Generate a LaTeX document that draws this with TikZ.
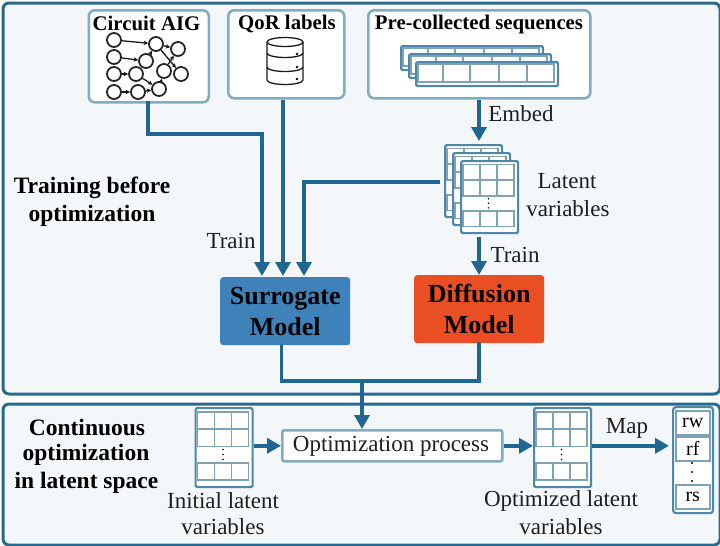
\documentclass[tikz,border=0pt]{standalone}
\usepackage{fontspec}
\setmainfont{Liberation Serif}
\usetikzlibrary{arrows.meta}
\definecolor{panelblue}{HTML}{286A8E}
\definecolor{arrowblue}{HTML}{1F6690}
\definecolor{boxedge}{HTML}{86ABBF}
\definecolor{frameblue}{HTML}{4E88A8}
\definecolor{cellgrey}{HTML}{7FA3B5}
\definecolor{panelfill}{HTML}{F3F7FA}
\definecolor{surro}{HTML}{3F82BA}
\definecolor{diffu}{HTML}{E94F22}
\tikzset{
  panel/.style={draw=panelblue,line width=3pt,fill=panelfill,rounded corners=6pt,inner sep=0pt,anchor=north west},
  srcbox/.style={draw=boxedge,line width=2.6pt,fill=white,rounded corners=6pt,inner sep=0pt,anchor=north west},
  frame/.style={draw=frameblue,line width=2.2pt,fill=white,rounded corners=1.5pt,inner sep=0pt,anchor=north west},
  cell/.style={draw=cellgrey,line width=1.5pt},
  conn/.style={draw=arrowblue,line width=3.6pt},
  arr/.style={conn,-{Triangle[length=14pt,width=15pt]}},
  lbl/.style={inner sep=0pt,text=black!88,font=\fontsize{23}{26}\selectfont},
  blbl/.style={inner sep=0pt,text=black,font=\fontsize{20.8}{24}\selectfont\bfseries},
  sidelbl/.style={inner sep=0pt,text=black,font=\fontsize{23.5}{27}\selectfont\bfseries},
  gate/.style={circle,draw=black!85,line width=1.8pt,fill=white,minimum size=14pt,inner sep=0pt},
  wire/.style={draw=black!90,line width=1.3pt,-{Stealth[length=4.5pt,width=4.5pt]}},
  ghost/.style={inner sep=0pt,anchor=north west},
  modelbox/.style={rounded corners=3pt,inner sep=0pt,anchor=north west,minimum width=130pt,minimum height=68pt,align=center,text=black,font=\fontsize{26}{31}\selectfont\bfseries},
  seqcell/.style={draw=cellgrey,line width=1.5pt,minimum width=34pt,minimum height=24pt,inner sep=0pt,anchor=north west,font=\fontsize{20}{22}\selectfont},
  dbline/.style={draw=black!90,line width=1.3pt},
}
% grid of latent cells: name, x, y, height
\newcommand{\latgrid}[4]{%
  \node[frame,minimum width=57pt,minimum height=#4pt] (#1) at (#2,#3) {};
  \begin{scope}[shift={(#2,#3)},yscale=#4/79]
    \draw[cell] (3,5) rectangle (54,39.5);
    \draw[cell] (3,22) -- (54,22);
    \draw[cell] (3,56) rectangle (54,73);
    \foreach \vx in {20,37}{\draw[cell] (\vx,5) -- (\vx,39.5); \draw[cell] (\vx,56) -- (\vx,73);}
    \foreach \vy in {42.5,47.5,52.5}{\fill[black] (28.5,\vy) circle (0.9pt);}
  \end{scope}}
% one sequence strip: name, x, y
\newcommand{\seqstrip}[3]{%
  \node[frame,minimum width=142pt,minimum height=24pt] (#1) at (#2,#3) {};
  \begin{scope}[shift={(#2,#3)}]
    \draw[cell] (3,3) rectangle (139,21);
    \foreach \vx in {28,55,84,112}{\draw[cell] (\vx,3) -- (\vx,21);}
  \end{scope}}
\begin{document}
\begin{tikzpicture}[x=1pt,y=-1pt]
\useasboundingbox (0,0) rectangle (720,546);
\fill[white] (0,0) rectangle (720,546);
% panels
\node[panel,minimum width=717pt,minimum height=391pt] (trainpanel) at (1.5,1.5) {};
\node[panel,minimum width=717pt,minimum height=141pt] (optpanel) at (1.5,402.5) {};
% source boxes
\node[srcbox,minimum width=120pt,minimum height=92pt] (aigbox) at (87.5,9) {};
\node[srcbox,minimum width=116pt,minimum height=88pt] (qorbox) at (227,9) {};
\node[srcbox,minimum width=222pt,minimum height=88pt] (seqbox) at (367,9) {};
\node[blbl] (aigtitle) at (146.5,23) {Circuit AIG};
\node[blbl] (qortitle) at (287,24) {QoR labels};
\node[blbl] (seqtitle) at (479,24) {Pre-collected sequences};
% AIG graph
\node[gate] (g1) at (114,40) {};
\node[gate] (g2) at (156,44) {};
\node[gate] (g3) at (178,49) {};
\node[gate] (g4) at (114,57) {};
\node[gate] (g5) at (146,61) {};
\node[gate] (g6) at (114,74) {};
\node[gate] (g7) at (136,74) {};
\node[gate] (g8) at (164,71) {};
\node[gate] (g9) at (181,74) {};
\node[gate] (g10) at (114,92) {};
\node[gate] (g11) at (138,92) {};
\node[gate] (g12) at (159,89) {};
\foreach \ga/\gb in {g1/g2,g2/g3,g4/g5,g5/g2,g2/g9,g6/g7,g7/g12,g10/g11,g11/g12,g12/g8,g8/g3}{\draw[wire] (\ga) -- (\gb);}
% database
\draw[dbline,fill=white] (267,42) -- (267,80) arc[start angle=180,end angle=360,x radius=18pt,y radius=4.5pt] -- (303,42);
\draw[dbline,fill=white] (285,42) ellipse[x radius=18pt,y radius=4.5pt];
\draw[dbline] (267,53) arc[start angle=180,end angle=360,x radius=18pt,y radius=4.5pt];
\draw[dbline] (267,67) arc[start angle=180,end angle=360,x radius=18pt,y radius=4.5pt];
\foreach \dy in {54,67,79}{\fill[black] (297,\dy) circle (1.3pt);}
% sequence stack
\seqstrip{seqa}{400}{45}
\seqstrip{seqb}{408}{53}
\seqstrip{seqc}{415}{61}
% latent stack
\latgrid{lata}{444}{144}{72}
\latgrid{latb}{452}{152}{72}
\latgrid{latc}{460}{160}{72}
\node[ghost,minimum width=73pt,minimum height=88pt] (latstack) at (444,144) {};
% models
\node[modelbox,fill=surro] (surrogate) at (220,277) {Surrogate\\Model};
\node[modelbox,fill=diffu] (diffusion) at (414,275) {Diffusion\\Model};
% optimization row
\node[srcbox,rounded corners=2pt,minimum width=220pt,minimum height=31pt] (optproc) at (281,429) {};
\node[lbl] (opttext) at (391,446.5) {Optimization process};
\latgrid{initgrid}{194.5}{407}{79}
\latgrid{optgrid}{533}{407}{79}
% sequence output
\node[frame,rounded corners=3pt,minimum width=40pt,minimum height=106pt] (outstack) at (672,406) {};
\node[seqcell] (rw) at (675,410) {rw};
\node[seqcell] (rf) at (675,436) {rf};
\node[seqcell] (rs) at (675,484) {rs};
\foreach \dy in {463,472,481}{\fill[black] (692,\dy) circle (1.2pt);}
% junction
\coordinate (mergeleft) at (281.5,381);
\coordinate (mergeright) at (479,381);
\coordinate (mergemid) at (362,381);
% connectors
\draw[arr] (148,101) |- (262,134) -- (262,276);
\draw[arr] (qorbox.south -| 283,0) -- (283,276);
\draw[arr] (seqbox.south -| 479,0) -- (479,141);
\draw[arr] (440,182) -| (304,276);
\draw[arr] (479,237) -- (diffusion.north -| 479,0);
\draw[conn,line cap=round] (surrogate.south -| 281.5,0) -- (mergeleft) -- (mergeright) -- (diffusion.south -| 479,0);
\draw[arr] (mergemid) -- (362,429);
\draw[arr] (initgrid.east |- optproc.west) -- (optproc.west);
\draw[arr] (optproc.east) -- (optgrid.west |- optproc.east);
\draw[arr,shorten >=3pt] (optgrid.east |- optproc.east) -- (outstack.west |- optproc.east);
% labels
\node[sidelbl] (trainlab) at (92,188) {Training before};
\node[sidelbl] (trainlabb) at (92,216) {optimization};
\node[lbl] (train1) at (231,241) {Train};
\node[lbl] (embed) at (521,113.5) {Embed};
\node[lbl] (lat1) at (567,181) {Latent};
\node[lbl] (lat2) at (568,209) {variables};
\node[lbl] (train2) at (515,255) {Train};
\node[sidelbl] (cont1) at (87,427) {Continuous};
\node[sidelbl] (cont2) at (86,455) {optimization};
\node[sidelbl] (cont3) at (86.5,483) {in latent space};
\node[lbl] (init1) at (223,501) {Initial latent};
\node[lbl] (init2) at (223,527) {variables};
\node[lbl] (opt1) at (561,501) {Optimized latent};
\node[lbl] (opt2) at (561,527) {variables};
\node[lbl] (maplab) at (627,428) {Map};
\end{tikzpicture}
\end{document}
